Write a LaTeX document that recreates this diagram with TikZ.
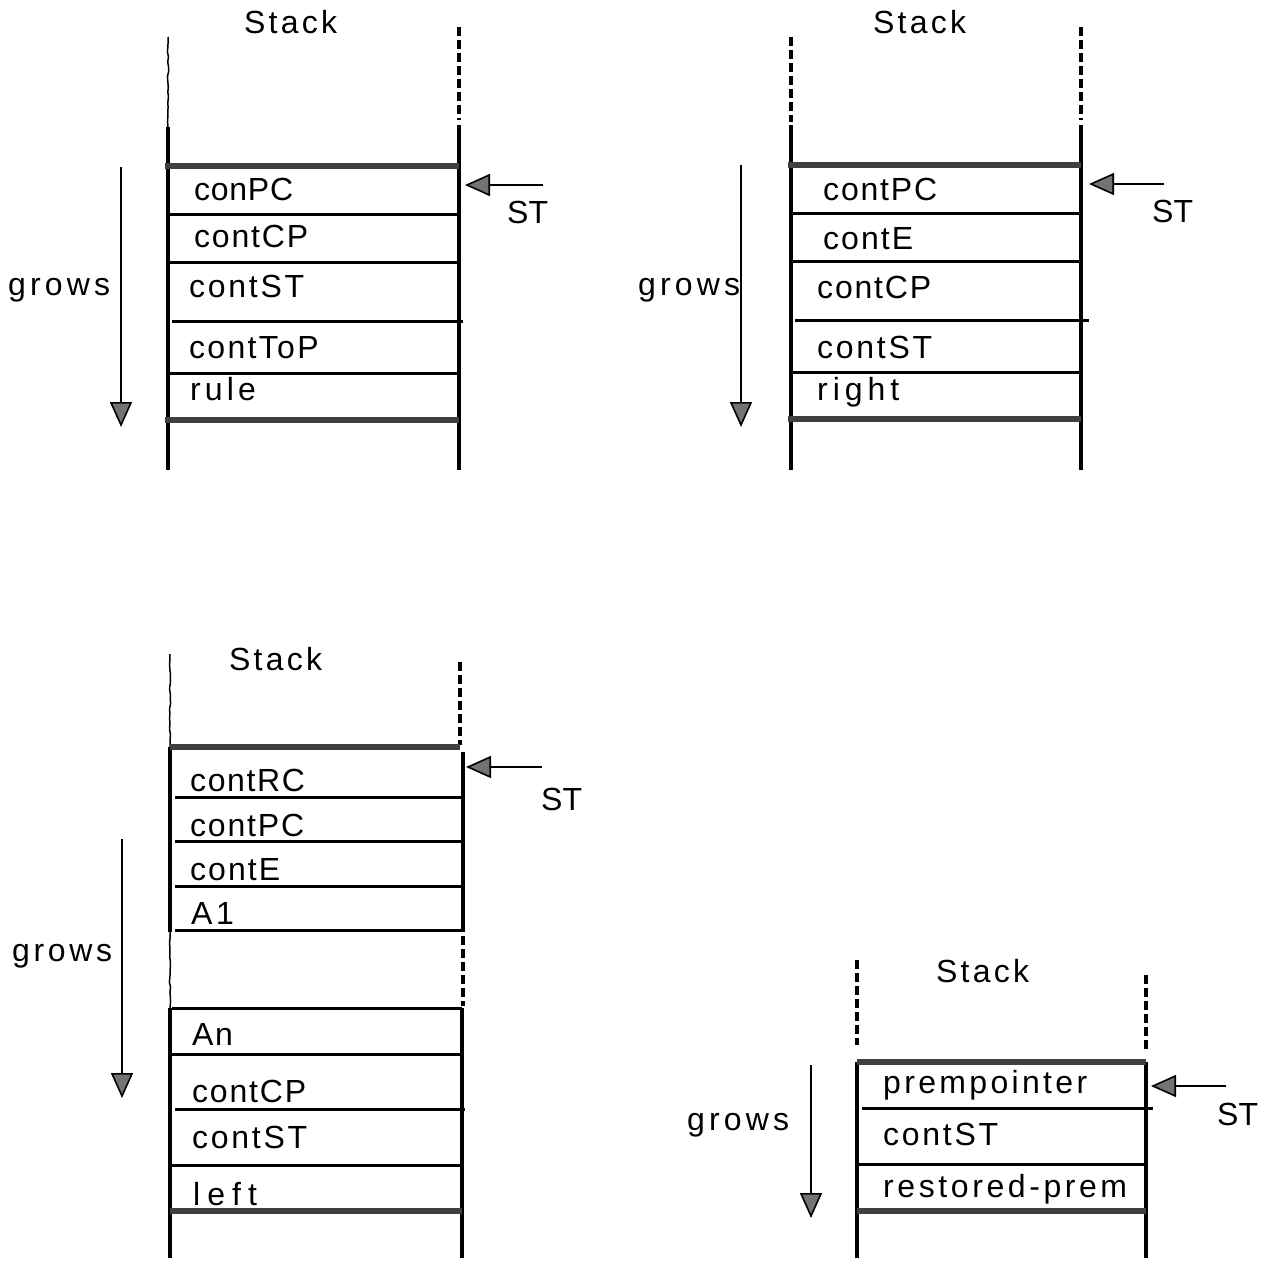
\documentclass[tikz,border=0pt]{standalone}
\usepackage{fontspec}
\setmainfont{Liberation Sans}
\usetikzlibrary{arrows.meta,decorations.pathmorphing}
\newcommand\lab{\fontsize{32}{38}\selectfont}
\newcommand\ls[2]{{\addfontfeatures{LetterSpace=#1}#2}}
\tikzset{
  wall/.style={line width=3.2pt},
  dwall/.style={line width=3.2pt, dash pattern=on 9pt off 4pt},
  wavywall/.style={line width=1.5pt, decorate, decoration={random steps,segment length=5pt,amplitude=0.6pt}},
  sep/.style={line width=3pt},
  thicksep/.style={line width=5.5pt, draw=black!75},
  lbl/.style={anchor=base west, inner sep=0pt, font=\lab},
  ptr/.style={line width=2.8pt, -{Triangle[length=25pt,width=22pt,line width=1.6pt,fill=black!55]}},
}
\begin{document}
\begin{tikzpicture}[x=1pt,y=-1pt]
\useasboundingbox (0,0) rectangle (1263,1261);
% ---------- panel 1
\draw[wavywall] (168,37) -- (168,127);
\draw[wall] (168,127) -- (168,470);
\draw[dwall] (459,27) -- (459,120);
\draw[wall] (459,125) -- (459,470);
\draw[thicksep] (165,166) -- (459,166);
\draw[sep] (168,214) -- (459,214);
\draw[sep] (168,262) -- (459,262);
\draw[sep] (172,321) -- (463,321);
\draw[sep] (168,373) -- (459,373);
\draw[thicksep] (165,420) -- (459,420);
\node[lbl] (s1) at (244,33) {\ls{10}{Stack}};
\node[lbl] (c1a) at (194,200) {\ls{2.3}{conPC}};
\node[lbl] (c1b) at (194,247) {\ls{5.7}{contCP}};
\node[lbl] (c1c) at (189,297) {\ls{8.5}{contST}};
\node[lbl] (c1d) at (189,358) {\ls{7.2}{contToP}};
\node[lbl] (c1e) at (190,400) {\ls{13}{rule}};
\node[lbl] (st1) at (507,223) {ST};
\node[lbl] (g1) at (8,295) {\ls{13}{grows}};
\coordinate (t1a) at (543,185); \coordinate (h1a) at (465,185);
\draw[ptr] (t1a) -- (h1a);
\coordinate (t1b) at (121,167); \coordinate (h1b) at (121,427);
\draw[ptr] (t1b) -- (h1b);
% ---------- panel 2
\draw[dwall] (791,37) -- (791,122);
\draw[wall] (791,125) -- (791,470);
\draw[dwall] (1081,27) -- (1081,120);
\draw[wall] (1081,125) -- (1081,470);
\draw[thicksep] (788,165) -- (1081,165);
\draw[sep] (791,213) -- (1081,213);
\draw[sep] (791,261) -- (1081,261);
\draw[sep] (795,320) -- (1089,320);
\draw[sep] (791,372) -- (1081,372);
\draw[thicksep] (788,419) -- (1081,419);
\node[lbl] (s2) at (873,33) {\ls{10}{Stack}};
\node[lbl] (c2a) at (823,200) {\ls{5.7}{contPC}};
\node[lbl] (c2b) at (823,249) {\ls{6.4}{contE}};
\node[lbl] (c2c) at (817,298) {\ls{5.7}{contCP}};
\node[lbl] (c2d) at (817,358) {\ls{8.5}{contST}};
\node[lbl] (c2e) at (817,400) {\ls{15.5}{right}};
\node[lbl] (st2) at (1152,222) {ST};
\node[lbl] (g2) at (638,295) {\ls{13}{grows}};
\coordinate (t2a) at (1164,184); \coordinate (h2a) at (1089,184);
\draw[ptr] (t2a) -- (h2a);
\coordinate (t2b) at (741,165); \coordinate (h2b) at (741,427);
\draw[ptr] (t2b) -- (h2b);
% ---------- panel 3
\draw[wavywall] (170,654) -- (170,747);
\draw[wall] (170,747) -- (170,932);
\draw[wavywall] (170,932) -- (170,1008);
\draw[wall] (170,1008) -- (170,1258);
\draw[dwall] (460,662) -- (460,745);
\draw[wall] (463,752) -- (463,930);
\draw[dwall] (463,936) -- (463,1006);
\draw[wall] (462,1008) -- (462,1258);
\draw[thicksep] (170,747) -- (460,747);
\draw[sep] (175,797) -- (463,797);
\draw[sep] (175,841) -- (463,841);
\draw[sep] (175,886) -- (463,886);
\draw[sep] (175,930) -- (465,930);
\draw[sep] (172,1008) -- (462,1008);
\draw[sep] (172,1054) -- (462,1054);
\draw[sep] (175,1109) -- (465,1109);
\draw[sep] (172,1165) -- (462,1165);
\draw[thicksep] (170,1211) -- (462,1211);
\node[lbl] (s3) at (229,670) {\ls{10}{Stack}};
\node[lbl] (c3a) at (190,791) {\ls{5}{contRC}};
\node[lbl] (c3b) at (190,836) {\ls{5.7}{contPC}};
\node[lbl] (c3c) at (190,880) {\ls{6.4}{contE}};
\node[lbl] (c3d) at (191,924) {\ls{11}{A1}};
\node[lbl] (c3e) at (192,1045) {\ls{5}{An}};
\node[lbl] (c3f) at (192,1102) {\ls{5.7}{contCP}};
\node[lbl] (c3g) at (192,1148) {\ls{8.5}{contST}};
\node[lbl] (c3h) at (193,1205) {\ls{22}{left}};
\node[lbl] (st3) at (541,810) {ST};
\node[lbl] (g3) at (12,961) {\ls{11.5}{grows}};
\coordinate (t3a) at (542,767); \coordinate (h3a) at (466,767);
\draw[ptr] (t3a) -- (h3a);
\coordinate (t3b) at (122,839); \coordinate (h3b) at (122,1098);
\draw[ptr] (t3b) -- (h3b);
% ---------- panel 4
\draw[dwall] (857,960) -- (857,1045);
\draw[wall] (857,1062) -- (857,1258);
\draw[dwall] (1146,975) -- (1146,1050);
\draw[wall] (1146,1062) -- (1146,1258);
\draw[thicksep] (857,1062) -- (1146,1062);
\draw[sep] (862,1108) -- (1153,1108);
\draw[sep] (857,1164) -- (1146,1164);
\draw[thicksep] (857,1211) -- (1146,1211);
\node[lbl] (s4) at (936,982) {\ls{10}{Stack}};
\node[lbl] (c4a) at (883,1093) {\ls{10.4}{prempointer}};
\node[lbl] (c4b) at (883,1145) {\ls{8.5}{contST}};
\node[lbl] (c4c) at (883,1197) {\ls{11.2}{restored-prem}};
\node[lbl] (st4) at (1217,1125) {ST};
\node[lbl] (g4) at (687,1130) {\ls{13}{grows}};
\coordinate (t4a) at (1226,1086); \coordinate (h4a) at (1151,1086);
\draw[ptr] (t4a) -- (h4a);
\coordinate (t4b) at (811,1065); \coordinate (h4b) at (811,1218);
\draw[ptr] (t4b) -- (h4b);
\end{tikzpicture}
\end{document}
